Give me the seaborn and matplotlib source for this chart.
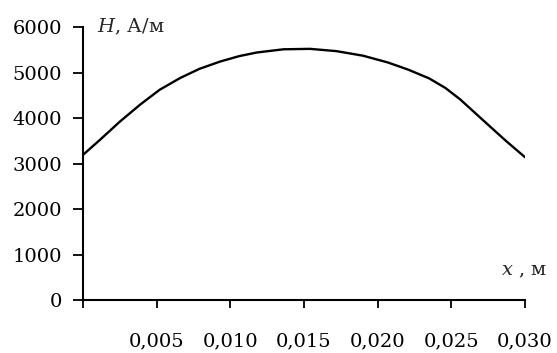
import matplotlib
matplotlib.use("Agg")
import matplotlib.pyplot as plt
import seaborn as sns
import pandas as pd

x_m = [0.0, 0.00115, 0.0025, 0.0039, 0.0052, 0.0066, 0.0079, 0.0093, 0.0106, 0.0118,
       0.0136, 0.0154, 0.0172, 0.0190, 0.0207, 0.0221, 0.0235, 0.0246, 0.0256, 0.0274,
       0.0287, 0.030]
H_Am = [3190, 3520, 3920, 4300, 4620, 4880, 5080, 5240, 5360, 5440,
        5510, 5520, 5470, 5370, 5220, 5060, 4870, 4660, 4410, 3880,
        3500, 3140]
x_ticks = [0.0, 0.005, 0.010, 0.015, 0.020, 0.025, 0.030]
x_ticklabels = ["", "0,005", "0,010", "0,015", "0,020", "0,025", "0,030"]
y_ticks = [0, 1000, 2000, 3000, 4000, 5000, 6000]

sns.set_style("ticks")
plt.rcParams['font.family'] = ['DejaVu Serif', 'Liberation Serif']
plt.rcParams['mathtext.fontset'] = 'dejavuserif'

df = pd.DataFrame({"x": x_m, "H": H_Am})

fig = plt.figure(figsize=(5.57, 3.53), dpi=100)
ax = fig.add_axes([0.149, 0.150, 0.7935, 0.7735])
sns.lineplot(data=df, x="x", y="H", ax=ax, color="black", linewidth=1.7)

ax.set_xlim(0, 0.030)
ax.set_ylim(0, 6000)
ax.set_xticks(x_ticks)
ax.set_xticklabels(x_ticklabels)
ax.set_yticks(y_ticks)
ax.set_xlabel("")
ax.set_ylabel("")
for s in ["top", "right"]:
    ax.spines[s].set_visible(False)
for s in ["left", "bottom"]:
    ax.spines[s].set_linewidth(1.5)
    ax.spines[s].set_color("black")
ax.tick_params(axis="x", direction="out", length=6, width=1.3, pad=17, labelsize=14, colors="black")
ax.tick_params(axis="y", direction="out", length=7, width=1.3, pad=8, labelsize=14, colors="black")

ax.text(0.032, 1.0, r"$H$, А/м", transform=ax.transAxes, fontsize=14, ha="left", va="center")
ax.text(1.05, 0.105, r"$x$ , м", transform=ax.transAxes, fontsize=14, ha="right", va="center")

fig.savefig("out.png", dpi=100)
